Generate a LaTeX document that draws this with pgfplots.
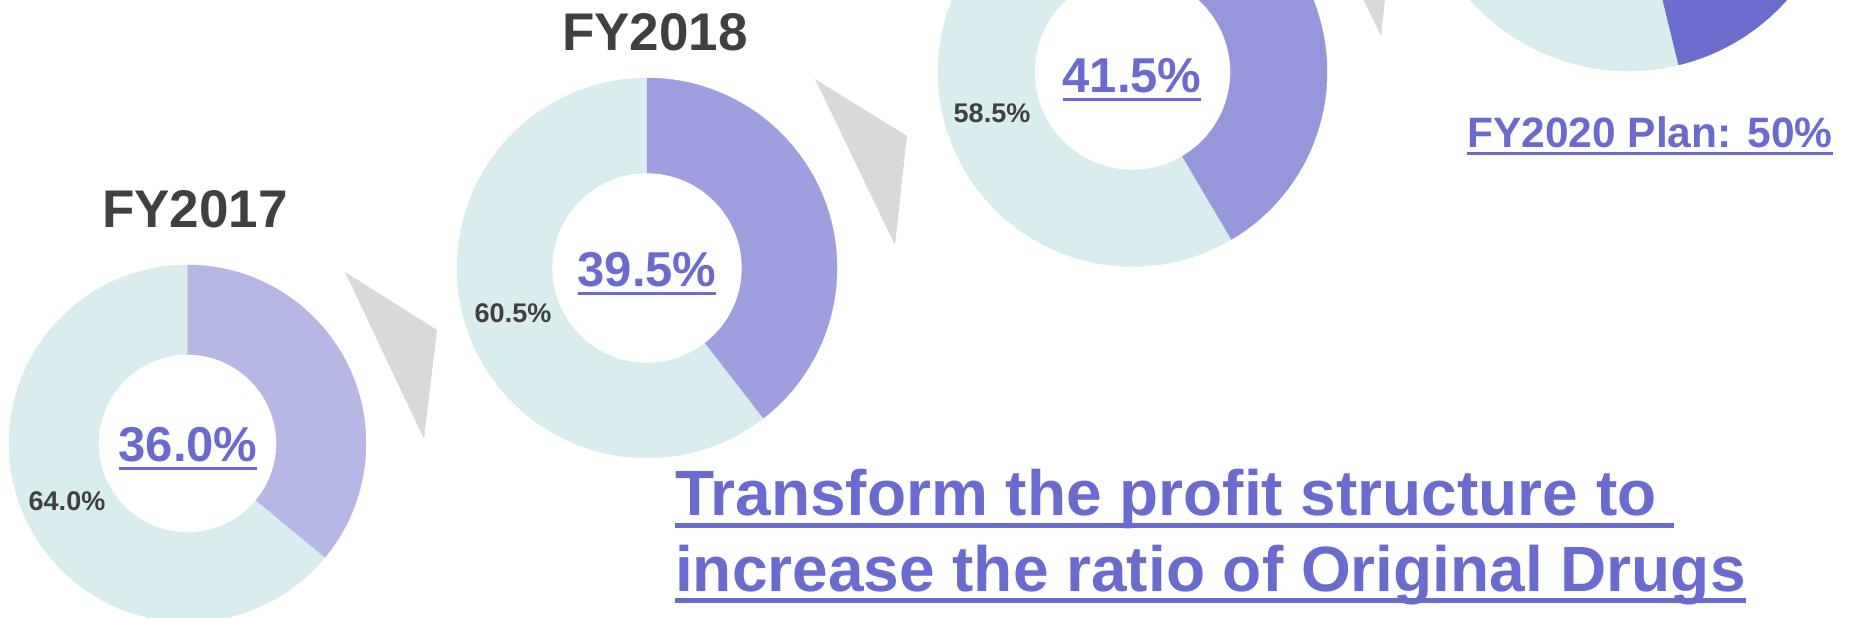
\documentclass[border=0pt]{standalone}
\usepackage{fontspec}
\setmainfont{Liberation Sans}
\usepackage{pgfplots}
\pgfplotsset{compat=1.18}

\definecolor{lightc}{HTML}{DAEDEE}
\definecolor{pA}{HTML}{B6B7E5}
\definecolor{pB}{HTML}{9F9FDF}
\definecolor{pC}{HTML}{9696DB}
\definecolor{pD}{HTML}{6C6CCF}
\definecolor{txtp}{HTML}{6B6BCF}
\definecolor{darkt}{HTML}{404040}
\definecolor{arrowc}{HTML}{D9D9D9}

\pgfdeclareplotmark{emptymark}{}
\newcommand\ul[3]{\setbox0\hbox{#3}\rlap{\rule[#1]{\wd0}{#2}}\box0}

% donut={outer radius}{inner radius}{share of Original Drugs in %}{colour}
\pgfplotsset{donut/.style n args={4}{scatter, only marks, mark=emptymark,
  scatter/@pre marker code/.code={%
    \fill[lightc] ({90-3.6*#3}:#1pt) arc[start angle={90-3.6*#3}, end angle=-270, radius=#1pt]
       -- (-270:#2pt) arc[start angle=-270, end angle={90-3.6*#3}, radius=#2pt] -- cycle;
    \fill[#4] (90:#1pt) arc[start angle=90, end angle={90-3.6*#3}, radius=#1pt]
       -- ({90-3.6*#3}:#2pt) arc[start angle={90-3.6*#3}, end angle=90, radius=#2pt] -- cycle;
  },
  scatter/@post marker code/.code={}}}

\begin{document}
\begin{tikzpicture}
\begin{axis}[x=1pt, y=1pt, xmin=0, xmax=1850, ymin=0, ymax=1000,
  hide axis, clip marker paths=true]

% arrows
\fill[arrowc] (axis cs:345,346) -- (axis cs:437,288) -- (axis cs:424,179) -- cycle;
\fill[arrowc] (axis cs:815,539) -- (axis cs:907,482) -- (axis cs:895,373) -- cycle;
\fill[arrowc] (axis cs:1301,748) -- (axis cs:1393,691) -- (axis cs:1381,582) -- cycle;

% donuts: FY2017 36.0%, FY2018 39.5%, FY2019 41.5%, next 46.2%
\addplot[donut={178.5}{89}{36.0}{pA}] coordinates {(187.5,174.5)};
\addplot[donut={190}{95}{39.5}{pB}] coordinates {(647,350)};
\addplot[donut={194.5}{98}{41.5}{pC}] coordinates {(1132.5,546)};
\addplot[donut={212}{106}{46.2}{pD}] coordinates {(1628.5,759)};

% titles
\node[anchor=base, inner sep=0, text=darkt, font={\bfseries\fontsize{53}{60}\selectfont}] at (axis cs:195,390) {FY2017};
\node[anchor=base, inner sep=0, text=darkt, font={\bfseries\fontsize{53}{60}\selectfont}] at (axis cs:655,567) {FY2018};

% centre labels
\node[anchor=base, inner sep=0, text=txtp, font={\bfseries\fontsize{49}{56}\selectfont}] at (axis cs:188,156) {\ul{-8.5pt}{3pt}{36.0\%}};
\node[anchor=base, inner sep=0, text=txtp, font={\bfseries\fontsize{49}{56}\selectfont}] at (axis cs:647,331) {\ul{-8.5pt}{3pt}{39.5\%}};
\node[anchor=base, inner sep=0, text=txtp, font={\bfseries\fontsize{49}{56}\selectfont}] at (axis cs:1132,525) {\ul{-8.5pt}{3pt}{41.5\%}};

% other share labels
\node[anchor=base, inner sep=0, text=darkt, font={\bfseries\fontsize{27}{32}\selectfont}] at (axis cs:67,107) {64.0\%};
\node[anchor=base, inner sep=0, text=darkt, font={\bfseries\fontsize{27}{32}\selectfont}] at (axis cs:513,295) {60.5\%};
\node[anchor=base, inner sep=0, text=darkt, font={\bfseries\fontsize{27}{32}\selectfont}] at (axis cs:992,495) {58.5\%};

% plan
\node[anchor=base west, inner sep=0, text=txtp, font={\bfseries\fontsize{42.5}{50}\selectfont}] at (axis cs:1467,470) {\ul{-7.5pt}{3pt}{FY2020 Plan: 50\%}};

% message
\node[anchor=base west, inner sep=0, text=txtp, font={\bfseries\fontsize{64}{72}\selectfont}] at (axis cs:675,102) {\ul{-12.5pt}{5pt}{Transform the profit structure to\ }};
\node[anchor=base west, inner sep=0, text=txtp, font={\bfseries\fontsize{64}{72}\selectfont}] at (axis cs:675,26) {\ul{-11.5pt}{5pt}{increase the ratio of Original Drugs}};
\end{axis}
\pgfresetboundingbox
\path[use as bounding box] (current axis.south west) rectangle ([yshift=618pt]current axis.south east);
\end{tikzpicture}
\end{document}
